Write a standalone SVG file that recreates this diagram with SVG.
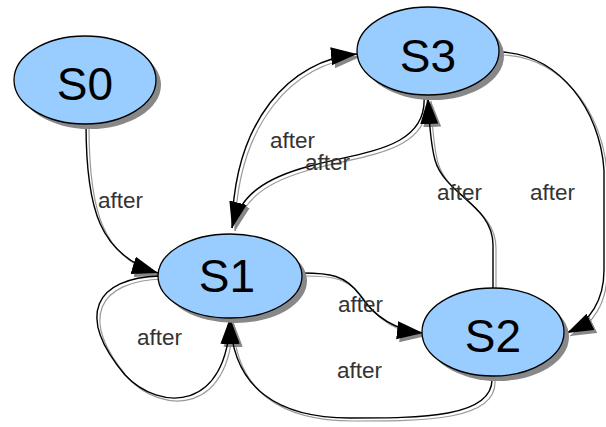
<svg xmlns="http://www.w3.org/2000/svg" width="606" height="427" viewBox="0 0 606 427">
<style>
.sh{fill:#888;stroke:none}
.nd{fill:#99ccff;stroke:#000;stroke-width:1.3}
.nl{font-family:"Liberation Sans",Arial,sans-serif;font-size:46px;fill:#000;text-anchor:middle}
.el{font-family:"Liberation Sans",Arial,sans-serif;font-size:22.5px;fill:#333}
.e{fill:none;stroke:#000;stroke-width:1.4;marker-end:url(#ah)}
.es{fill:none;stroke:#999;stroke-width:1.2;marker-end:url(#ahs)}
</style>
<defs>
<marker id="ah" markerUnits="userSpaceOnUse" markerWidth="28" markerHeight="20" refX="26" refY="9" orient="auto"><path d="M0,0 L26,9 L0,18 z" fill="#000"/></marker>
<marker id="ahs" markerUnits="userSpaceOnUse" markerWidth="28" markerHeight="20" refX="26" refY="9" orient="auto"><path d="M0,0 L26,9 L0,18 z" fill="#888"/></marker>
<path id="p1" d="M86,124 C86,210 100,255 158,273"/>
<path id="p2" d="M232,228 C234,120 290,60 357,54"/>
<path id="p3" d="M424,96 C428,150 360,152 310,166 C265,178 240,195 232,228"/>
<path id="p4" d="M493,288 L493,245 C493,205 445,195 435,160 C431,145 429,120 428,98"/>
<path id="p5" d="M501,52 C560,55 600,110 604,170 L604,270 C604,300 590,322 567,333"/>
<path id="p6" d="M302,273 C330,273 345,275 360,295 C375,318 395,330 423,333"/>
<path id="p7" d="M492,378 C494,418 420,418 350,418 C280,418 232,390 230,318"/>
<path id="p8" d="M160,276 C95,278 75,315 125,375 C160,412 228,412 230,318"/>
</defs>
<g id="connectors">
<g transform="translate(3,3)">
<use href="#p1" class="es"/><use href="#p2" class="es"/><use href="#p3" class="es"/><use href="#p4" class="es"/>
<use href="#p5" class="es"/><use href="#p6" class="es"/><use href="#p7" class="es"/><use href="#p8" class="es"/>
</g>
<use href="#p1" class="e"/><use href="#p2" class="e"/><use href="#p3" class="e"/><use href="#p4" class="e"/>
<use href="#p5" class="e"/><use href="#p6" class="e"/><use href="#p7" class="e"/><use href="#p8" class="e"/>
<text class="el" x="98" y="208">after</text>
<text class="el" x="270" y="148">after</text>
<text class="el" x="305" y="170">after</text>
<text class="el" x="437" y="200">after</text>
<text class="el" x="530" y="200">after</text>
<text class="el" x="338" y="312">after</text>
<text class="el" x="137" y="345">after</text>
<text class="el" x="337" y="378">after</text>
</g>
<g id="S0"><ellipse class="sh" cx="90" cy="85" rx="71" ry="44"/><ellipse class="nd" cx="85" cy="80" rx="71" ry="44"/><text class="nl" x="85" y="100">S0</text></g>
<g id="S3"><ellipse class="sh" cx="433" cy="56" rx="71" ry="44"/><ellipse class="nd" cx="428" cy="51" rx="71" ry="44"/><text class="nl" x="428" y="72">S3</text></g>
<g id="S1"><ellipse class="sh" cx="235" cy="281" rx="72" ry="42"/><ellipse class="nd" cx="230" cy="276" rx="72" ry="42"/><text class="nl" x="227" y="292">S1</text></g>
<g id="S2"><ellipse class="sh" cx="498" cy="337" rx="71" ry="44"/><ellipse class="nd" cx="493" cy="332" rx="71" ry="44"/><text class="nl" x="493" y="352">S2</text></g>
</svg>
